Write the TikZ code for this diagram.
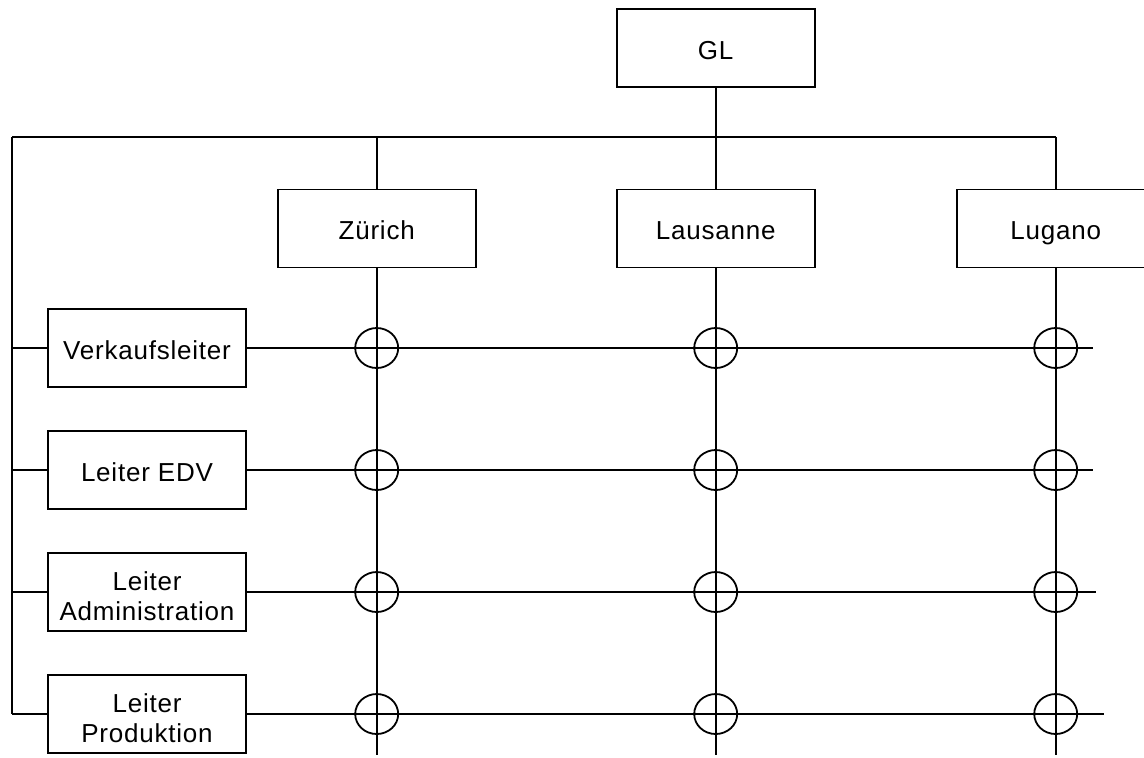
\documentclass[tikz,border=0pt]{standalone}
\usepackage{fontspec}
\setmainfont{Liberation Sans}[LetterSpace=3]
\usetikzlibrary{positioning,shapes.geometric}
\newcommand{\topgap}{\rule{0pt}{13.5pt}}
\tikzset{
  basic-style/.style = {
    rectangle, draw, line width=0.9pt,
    minimum width=99pt, minimum height=39pt,
    inner sep=0pt, outer sep=0pt, align=center,
    font=\fontsize{13}{15.3}\selectfont
  },
  unit-style/.style = {
    basic-style,
    text height=11.7pt, text depth=0.65pt
  },
  cross-style/.style = {
    ellipse, draw, line width=0.9pt,
    minimum width=21.5pt, minimum height=20pt, inner sep=0pt
  }
}

\begin{document}
\begin{tikzpicture}[x=0.5pt,y=-0.5pt,line width=0.9pt]
    \useasboundingbox (0,0) rectangle (1144,757);
    \clip (0,0) rectangle (1144,757);

    %%% management
    \node[unit-style] (gl) at (715.7,48) {GL};

    %%% locations
    \node[unit-style] (zuerich) at (376.7,228.5) {Zürich};
    \node[unit-style,right=70.5pt of zuerich] (lausanne) {Lausanne};
    \node[unit-style,right=71pt of lausanne] (lugano) {Lugano};

    %%% functions
    \node[unit-style] (verkauf) at (147,348) {Verkaufsleiter};
    \node[unit-style,below=22pt of verkauf] (edv) {Leiter EDV};
    \node[basic-style,below=22pt of edv] (admin) {\topgap Leiter\\Administration};
    \node[basic-style,below=22pt of admin] (prod) {\topgap Leiter\\Produktion};

    %%% bus lines
    \coordinate (bus) at (12,137);
    \coordinate (bottom) at (0,755);
    \draw (gl.south) -- (lausanne.north);
    \draw (bus) -- (bus -| lugano);
    \draw (bus) -- (bus |- prod);
    \draw (bus -| zuerich) -- (zuerich.north);
    \draw (bus -| lugano) -- (lugano.north);
    \foreach \r in {verkauf,edv,admin,prod}
      \draw (bus |- \r) -- (\r.west);

    %%% matrix lines
    \foreach \c in {zuerich,lausanne,lugano}
      \draw (\c.south) -- (\c |- bottom);
    \foreach \r/\xend in {verkauf/1093,edv/1093,admin/1096,prod/1104} {
      \coordinate (\r-end) at (\xend,0);
      \draw (\r.east) -- (\r-end |- \r);
    }

    %%% crossings
    \foreach \c in {zuerich,lausanne,lugano}
      \foreach \r in {verkauf,edv,admin,prod}
        \node[cross-style] (\c-\r) at (\c |- \r) {};
\end{tikzpicture}
\end{document}
